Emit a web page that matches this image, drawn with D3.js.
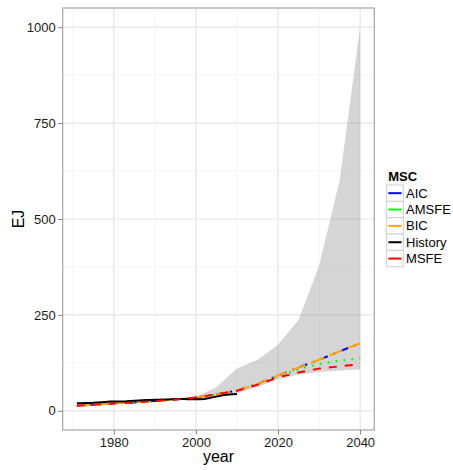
<!DOCTYPE html>
<html>
<head>
<meta charset="utf-8">
<script src="https://cdn.jsdelivr.net/npm/d3@7/dist/d3.min.js"></script>
<style>
  html, body { margin: 0; padding: 0; background: #ffffff; }
  svg text { font-family: "Liberation Sans", Arial, Helvetica, sans-serif; }
</style>
</head>
<body>
<svg id="chart" width="453" height="470"></svg>
<script>
// Observed energy use (EJ), 1971-2010
const historyYears = [1971, 1972, 1973, 1974, 1975, 1976, 1977, 1978, 1979, 1980,
                      1981, 1982, 1983, 1984, 1985, 1986, 1987, 1988, 1989, 1990,
                      1991, 1992, 1993, 1994, 1995, 1996, 1997, 1998, 1999, 2000,
                      2001, 2002, 2003, 2004, 2005, 2006, 2007, 2008, 2009, 2010];
const historyValues = [19.5, 20, 20.5, 20.6, 21, 21.8, 22.5, 23.2, 24, 24,
                       24.2, 24.5, 25, 25.8, 26.3, 26.8, 27.3, 28, 28.4, 28.7,
                       29, 29.2, 29.6, 30, 30.5, 30.8, 30.6, 30.2, 30.4, 31,
                       30.4, 30.8, 32.5, 35, 37, 39, 41.5, 42.6, 43, 43.6];

// Model fits and projections by selection criterion
const modelYears = [1971, 1975, 1980, 1985, 1990, 1995, 2000, 2005, 2010, 2015, 2020, 2025, 2030, 2035, 2040];
const aicValues   = [13, 16, 19, 22, 25.5, 29.5, 35, 43, 53, 70, 92, 113, 133, 155, 176];
const amsfeValues = [13, 16, 19, 22, 25.5, 29.5, 35, 43, 53, 70, 90, 108, 122, 131, 137];
const bicValues   = [13, 16, 19, 22, 25.5, 29.5, 35, 43, 53, 70, 92, 113, 133, 155, 176];
const msfeValues  = [13, 16, 19, 22, 25.5, 29.5, 35, 43, 52, 68, 87, 100, 110, 116, 121];

// Projection range band
const bandYears = [2000, 2005, 2010, 2015, 2020, 2025, 2030, 2035, 2040];
const bandLower = [30, 36, 45, 62, 82, 94, 101, 105, 108];
const bandUpper = [36, 62, 110, 133, 172, 237, 378, 600, 1000];

// Axis ticks
const xTicks = [1980, 2000, 2020, 2040];
const xMinorTicks = [1970, 1990, 2010, 2030];
const yTicks = [0, 250, 500, 750, 1000];
const yMinorTicks = [125, 375, 625, 875];

// Legend entries, in legend order
const seriesNames = ["AIC", "AMSFE", "BIC", "History", "MSFE"];
const seriesColors = ["#0000ff", "#00ff00", "#ffa500", "#000000", "#ff0000"];

const series = [
  { name: "AIC",     years: modelYears,   values: aicValues,     dash: "2,6,8,6" },
  { name: "AMSFE",   years: modelYears,   values: amsfeValues,   dash: "2,6" },
  { name: "BIC",     years: modelYears,   values: bicValues,     dash: "14,6" },
  { name: "History", years: historyYears, values: historyValues, dash: null },
  { name: "MSFE",    years: modelYears,   values: msfeValues,    dash: "8,8" }
];

const color = d3.scaleOrdinal().domain(seriesNames).range(seriesColors);

const svg = d3.select("#chart");
const panel = { left: 62.7, right: 374.3, top: 8, bottom: 430 };

// ggplot-style 5% expansion around the data range
function expand(lo, hi) {
  const pad = (hi - lo) * 0.05;
  return [lo - pad, hi + pad];
}

const allYears = historyYears.concat(modelYears, bandYears);
const allValues = [0].concat(historyValues, aicValues, amsfeValues, bicValues, msfeValues, bandLower, bandUpper);

const x = d3.scaleLinear()
  .domain(expand(d3.min(allYears), d3.max(allYears)))
  .range([panel.left, panel.right]);
const y = d3.scaleLinear()
  .domain(expand(d3.min(allValues), d3.max(allValues)))
  .range([panel.bottom, panel.top]);

// Panel background and grid
svg.append("rect")
  .attr("x", panel.left).attr("y", panel.top)
  .attr("width", panel.right - panel.left).attr("height", panel.bottom - panel.top)
  .attr("fill", "#ffffff");

const grid = svg.append("g");
grid.selectAll(".xminor").data(xMinorTicks).join("line")
  .attr("x1", d => x(d)).attr("x2", d => x(d))
  .attr("y1", panel.top).attr("y2", panel.bottom)
  .attr("stroke", "#f5f5f5").attr("stroke-width", 1);
grid.selectAll(".yminor").data(yMinorTicks).join("line")
  .attr("y1", d => y(d)).attr("y2", d => y(d))
  .attr("x1", panel.left).attr("x2", panel.right)
  .attr("stroke", "#f5f5f5").attr("stroke-width", 1);
grid.selectAll(".xmajor").data(xTicks).join("line")
  .attr("x1", d => x(d)).attr("x2", d => x(d))
  .attr("y1", panel.top).attr("y2", panel.bottom)
  .attr("stroke", "#e5e5e5").attr("stroke-width", 1.2);
grid.selectAll(".ymajor").data(yTicks).join("line")
  .attr("y1", d => y(d)).attr("y2", d => y(d))
  .attr("x1", panel.left).attr("x2", panel.right)
  .attr("stroke", "#e5e5e5").attr("stroke-width", 1.2);

// Projection band
const band = d3.area()
  .x((d, i) => x(bandYears[i]))
  .y0((d, i) => y(bandLower[i]))
  .y1((d, i) => y(bandUpper[i]));
svg.append("path")
  .attr("d", band(bandYears))
  .attr("fill", "#7f7f7f")
  .attr("fill-opacity", 0.33);

// Series lines
const line = d3.line()
  .x(d => x(d[0]))
  .y(d => y(d[1]));
svg.append("g").selectAll("path").data(series).join("path")
  .attr("d", s => line(s.years.map((yr, i) => [yr, s.values[i]])))
  .attr("fill", "none")
  .attr("stroke", s => color(s.name))
  .attr("stroke-width", 2)
  .attr("stroke-dasharray", s => s.dash)
  .attr("stroke-linejoin", "round");

// Panel border
svg.append("rect")
  .attr("x", panel.left).attr("y", panel.top)
  .attr("width", panel.right - panel.left).attr("height", panel.bottom - panel.top)
  .attr("fill", "none").attr("stroke", "#a6a6a6").attr("stroke-width", 1.2);

// Axes
const xAxis = svg.append("g")
  .attr("transform", `translate(0,${panel.bottom})`)
  .call(d3.axisBottom(x).tickValues(xTicks).tickFormat(d3.format("d")).tickSize(4.5).tickPadding(3));
const yAxis = svg.append("g")
  .attr("transform", `translate(${panel.left},0)`)
  .call(d3.axisLeft(y).tickValues(yTicks).tickFormat(d3.format("d")).tickSize(4.5).tickPadding(2.5));
[xAxis, yAxis].forEach(a => {
  a.select(".domain").remove();
  a.selectAll(".tick line").attr("stroke", "#7f7f7f").attr("stroke-width", 1);
  a.selectAll(".tick text").attr("fill", "#1a1a1a").attr("font-size", 13)
    .attr("font-family", "'Liberation Sans', Arial, sans-serif");
});

// Axis titles
svg.append("text")
  .attr("x", (panel.left + panel.right) / 2).attr("y", 461.5)
  .attr("text-anchor", "middle").attr("font-size", 16).attr("fill", "#000")
  .text("year");
svg.append("text")
  .attr("transform", `translate(23.5,${(panel.top + panel.bottom) / 2}) rotate(-90)`)
  .attr("text-anchor", "middle").attr("font-size", 16).attr("fill", "#000")
  .text("EJ");

// Legend
const legend = svg.append("g").attr("transform", "translate(386.7,185)");
legend.append("text")
  .attr("x", 1.6).attr("y", -4.3)
  .attr("font-size", 13).attr("font-weight", "bold").attr("fill", "#000")
  .text("MSC");
const keyH = 16.35, keyW = 16.6;
const rows = legend.selectAll(".row").data(seriesNames).join("g")
  .attr("transform", (d, i) => `translate(0,${i * keyH})`);
rows.append("rect")
  .attr("width", keyW).attr("height", keyH)
  .attr("fill", "#ffffff").attr("stroke", "#cccccc").attr("stroke-width", 1);
rows.append("line")
  .attr("x1", 1.7).attr("x2", keyW - 1.7)
  .attr("y1", keyH / 2).attr("y2", keyH / 2)
  .attr("stroke", d => color(d)).attr("stroke-width", 2);
rows.append("text")
  .attr("x", keyW + 2.8).attr("y", keyH / 2 + 4.6)
  .attr("font-size", 13).attr("fill", "#000")
  .text(d => d);
</script>
</body>
</html>
